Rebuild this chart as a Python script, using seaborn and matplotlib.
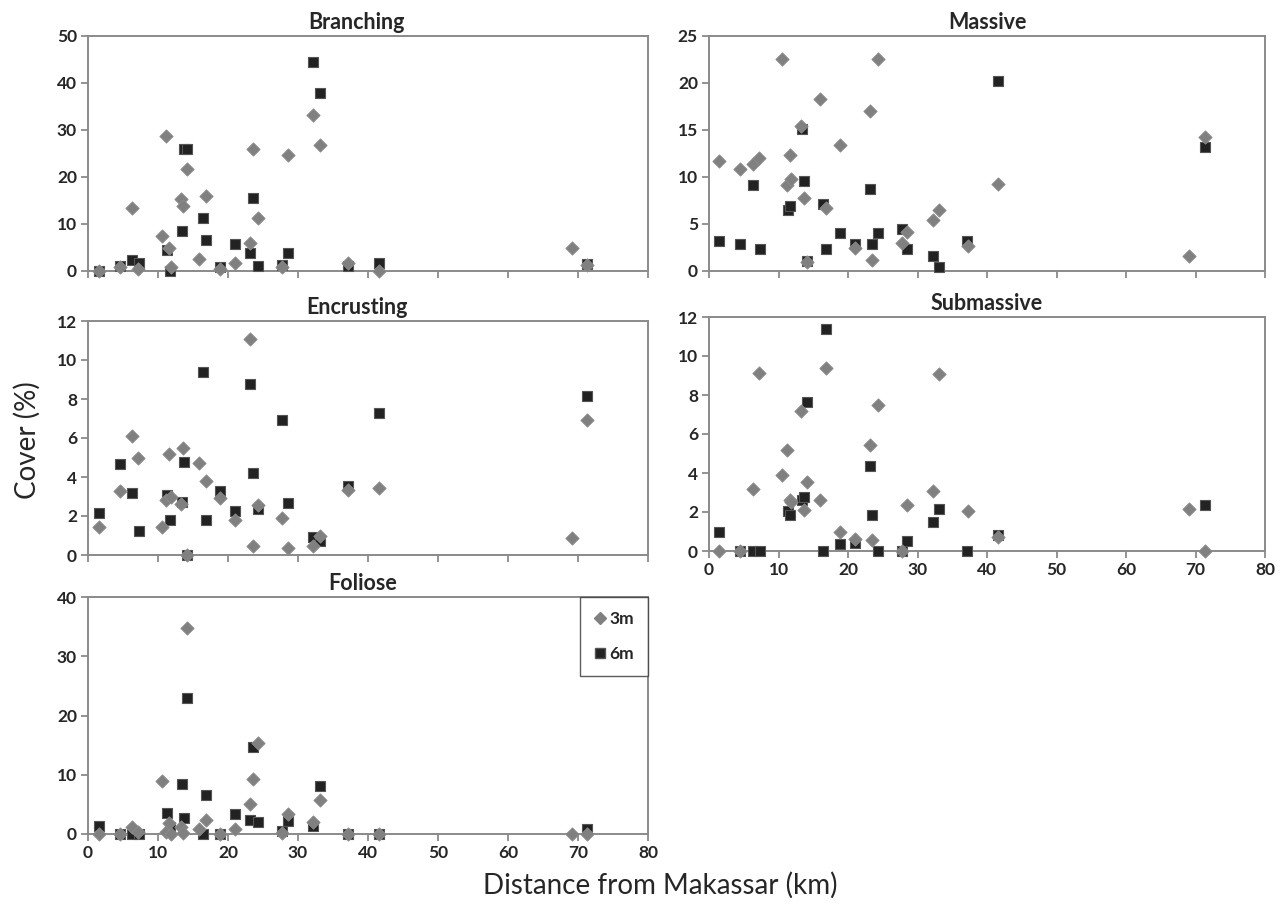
import matplotlib
matplotlib.use("Agg")
import matplotlib.pyplot as plt
import seaborn as sns
import pandas as pd
from matplotlib.lines import Line2D

# ---- data ----
dist_3m = [1.5, 4.5, 6.3, 7.2, 10.5, 11.2, 11.6, 11.8, 13.3, 13.6, 14.1, 15.9, 16.9,
           18.8, 21.0, 23.1, 23.5, 24.3, 27.7, 28.5, 32.2, 33.1, 37.2, 41.6, 69.1, 71.3]
dist_6m = [1.5, 4.5, 6.3, 7.3, 11.3, 11.7, 13.4, 13.7, 14.1, 16.4, 16.9, 18.8, 21.0,
           23.1, 23.5, 24.3, 27.7, 28.5, 32.2, 33.1, 37.1, 41.6, 71.3]

branching_3m = [0.1, 0.8, 13.4, 0.4, 7.5, 28.7, 4.8, 0.9, 15.3, 13.8, 21.7, 2.5, 16.0,
                0.4, 1.7, 5.9, 26.0, 11.2, 0.8, 24.6, 33.1, 26.8, 1.6, 0.0, 4.8, 1.3]
branching_6m = [0.1, 1.1, 2.4, 1.6, 4.5, 0.0, 8.5, 26.0, 26.0, 11.2, 6.7, 0.9, 5.7,
                3.8, 15.6, 1.0, 1.3, 3.9, 44.4, 37.9, 1.0, 1.6, 1.5]

massive_3m = [11.7, 10.8, 11.4, 12.0, 22.5, 9.1, 12.3, 9.8, 15.4, 7.8, 1.0, 18.3, 6.7,
              13.4, 2.4, 17.0, 1.2, 22.6, 3.0, 4.2, 5.4, 6.5, 2.7, 9.3, 1.6, 14.3]
massive_6m = [3.2, 2.9, 9.1, 2.3, 6.5, 6.9, 15.1, 9.6, 1.1, 7.1, 2.3, 4.0, 2.9,
              8.7, 2.9, 4.0, 4.5, 2.3, 1.6, 0.4, 3.2, 20.2, 13.2]

encrusting_3m = [1.45, 3.26, 6.1, 5.0, 1.45, 2.8, 5.2, 2.95, 2.6, 5.47, 0.0, 4.7, 3.8,
                 2.9, 1.8, 11.1, 0.44, 2.58, 1.9, 0.34, 0.44, 1.0, 3.33, 3.43, 0.85, 6.9]
encrusting_6m = [2.15, 4.67, 3.2, 1.25, 3.1, 1.8, 2.7, 4.75, 0.0, 9.4, 1.8, 3.26, 2.24,
                 8.77, 4.2, 2.36, 6.94, 2.65, 0.94, 0.73, 3.52, 7.26, 8.15]

submassive_3m = [0.0, 0.0, 3.16, 9.14, 3.9, 5.19, 2.6, 2.5, 7.17, 2.1, 3.56, 2.6, 9.4,
                 0.96, 0.64, 5.45, 0.58, 7.5, 0.0, 2.35, 3.1, 9.09, 2.04, 0.72, 2.15, 0.0]
submassive_6m = [1.0, 0.0, 0.0, 0.0, 2.04, 1.84, 2.6, 2.78, 7.65, 0.0, 11.4, 0.34, 0.43,
                 4.36, 1.84, 0.0, 0.0, 0.52, 1.5, 2.15, 0.0, 0.84, 2.35]

foliose_3m = [0.0, 0.0, 1.1, 0.3, 8.9, 0.3, 1.8, 0.0, 1.2, 0.2, 34.8, 0.9, 2.3,
              0.0, 0.9, 5.0, 9.2, 15.3, 0.2, 3.3, 2.0, 5.8, 0.0, 0.0, 0.0, 0.0]
foliose_6m = [1.4, 0.0, 0.0, 0.0, 3.5, 1.1, 8.5, 2.7, 22.9, 0.0, 6.6, 0.0, 3.4,
              2.36, 14.7, 2.1, 0.5, 2.2, 1.35, 8.1, 0.0, 0.0, 0.8]

x_ticks = [0, 10, 20, 30, 40, 50, 60, 70, 80]
depth_labels = ["3m", "6m"]

# ---- style ----
sns.set_style("white")
plt.rcParams['font.family'] = ['Lato', 'DejaVu Sans']

W, H = 1285, 908
fig = plt.figure(figsize=(W / 100, H / 100), dpi=100)


def rect(left, right, top, bottom):
    return [left / W, 1 - bottom / H, (right - left) / W, (bottom - top) / H]


panels = [
    ("Branching", branching_3m, branching_6m, rect(88, 648, 36, 271), 50, 10, False, 0.48),
    ("Massive", massive_3m, massive_6m, rect(709, 1265, 36, 271), 25, 5, False, 0.5),
    ("Encrusting", encrusting_3m, encrusting_6m, rect(88, 648, 321, 555), 12, 2, False, 0.48),
    ("Submassive", submassive_3m, submassive_6m, rect(709, 1265, 317, 551), 12, 2, True, 0.5),
    ("Foliose", foliose_3m, foliose_6m, rect(88, 648, 597, 834), 40, 10, True, 0.49),
]

spine_col = "#8a8a8a"
diam_col = "#808080"
sq_col = "#222222"

for title, v3, v6, pos, ymax, ystep, xlabels, tx in panels:
    ax = fig.add_axes(pos)
    df3 = pd.DataFrame({"dist": dist_3m, "cover": v3, "depth": depth_labels[0]})
    df6 = pd.DataFrame({"dist": dist_6m, "cover": v6, "depth": depth_labels[1]})
    sns.scatterplot(data=df6, x="dist", y="cover", ax=ax, marker="s", s=62,
                    color=sq_col, edgecolor="#555555", linewidth=0.8,
                    clip_on=False, zorder=4, legend=False)
    sns.scatterplot(data=df3, x="dist", y="cover", ax=ax, marker="D", s=46,
                    color=diam_col, edgecolor="#8c8c8c", linewidth=0.6,
                    clip_on=False, zorder=5, legend=False)
    ax.set_xlim(0, 80)
    ax.set_ylim(0, ymax)
    ax.set_xticks(x_ticks)
    ax.set_yticks(list(range(0, ymax + 1, ystep)))
    ax.set_xlabel("")
    ax.set_ylabel("")
    for sp in ax.spines.values():
        sp.set_color(spine_col)
        sp.set_linewidth(1.4)
        sp.set_visible(True)
    ax.tick_params(axis="both", direction="out", length=5, width=1.3,
                   color=spine_col, labelsize=12.5, pad=3,
                   bottom=True, left=True, top=False, right=False)
    for lab in ax.get_yticklabels():
        lab.set_fontweight("bold")
    if xlabels:
        for lab in ax.get_xticklabels():
            lab.set_fontweight("bold")
    else:
        ax.tick_params(axis="x", labelbottom=False)
    ax.set_title(title, fontsize=15.5, fontweight="bold", pad=5, x=tx)

    if title == "Foliose":
        handles = [
            Line2D([], [], marker="D", linestyle="none", markersize=6,
                   markerfacecolor=diam_col, markeredgecolor=diam_col),
            Line2D([], [], marker="s", linestyle="none", markersize=7,
                   markerfacecolor=sq_col, markeredgecolor="#555555"),
        ]
        leg = ax.legend(handles, depth_labels, loc="upper right", frameon=True,
                        fancybox=False, borderaxespad=0, handlelength=0.7,
                        handletextpad=0.2, labelspacing=1.1, borderpad=0.8,
                        prop={"weight": "bold", "size": 12.5})
        leg.get_frame().set_edgecolor("#333333")
        leg.get_frame().set_linewidth(1.0)

fig.text(27 / W, 1 - 440 / H, "Cover (%)", rotation=90, ha="center", va="center",
         fontsize=20)
fig.text(660 / W, 1 - 885 / H, "Distance from Makassar (km)", ha="center",
         va="center", fontsize=20)

fig.savefig("out.png", dpi=100)
